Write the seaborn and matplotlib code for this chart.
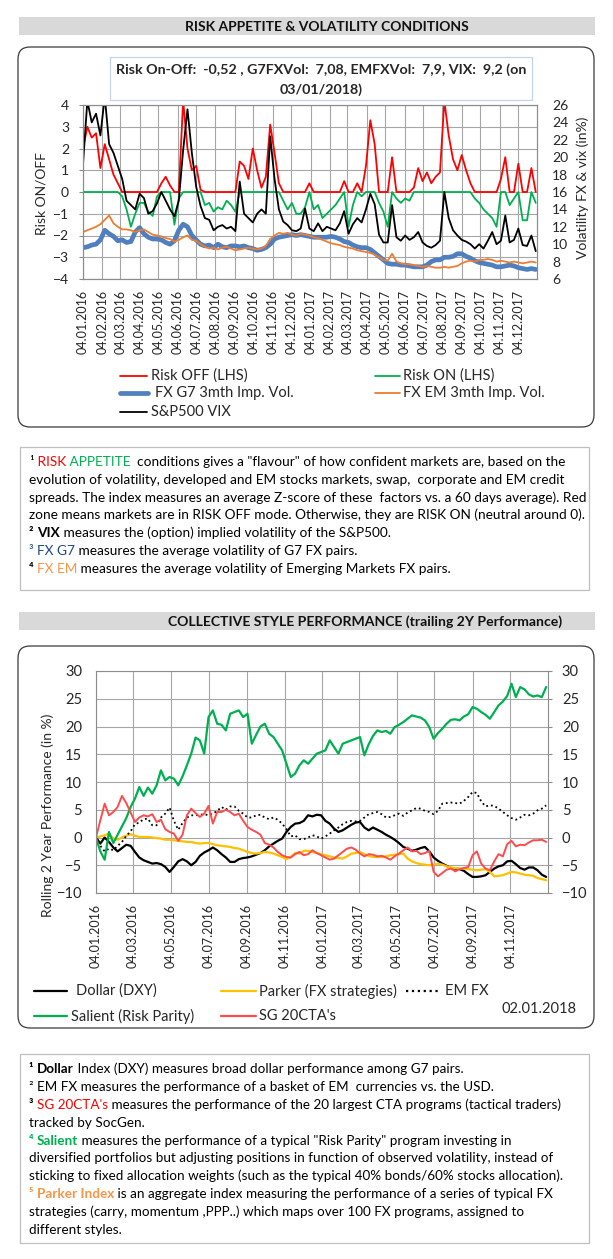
import numpy as np
import pandas as pd
import matplotlib.pyplot as plt
import matplotlib.dates as mdates
import seaborn as sns
from matplotlib.patches import FancyBboxPatch, Rectangle

sns.set_style('white')
BODY = ['Lato', 'DejaVu Sans']
HEAD = ['Liberation Sans Narrow', 'Lato', 'DejaVu Sans']
plt.rcParams['font.family'] = BODY

W, H = 613, 1259

# ---------------- data: risk appetite (weekly, from 04.01.2016) ----------------
risk_on_off = [2.0, 3.0, 2.5, 2.7, 1.1, 2.2, 1.5, 0.8, 0.4, -0.2,
               -0.8, -1.6, -1.0, -0.5, -0.5, -0.9, -1.1, -0.2, 0.4, 0.7,
               0.3, -1.5, -0.3, 4.2, 2.0, 1.0, 1.2, 0.1, -0.6, -0.5,
               -0.9, -0.7, -0.8, -0.4, -0.6, -0.9, 1.4, 1.2, 0.6, 2.0,
               1.0, 0.2, 0.7, 3.1, 1.8, 0.4, -0.4, -0.8, -0.5, -1.0,
               -1.0, -0.7, 0.4, -0.8, -0.6, -1.2, -1.0, -0.8, -0.6, -0.3,
               0.5, -1.6, -0.6, 0.4, -0.2, 1.2, 3.3, 2.2, -0.5, -0.9,
               -1.6, 1.6, -0.3, -0.5, -0.3, -0.4, 0.2, 1.1, 0.5, 0.9,
               0.4, 0.7, 0.9, 4.2, 2.6, 1.5, 1.0, 1.7, 1.0, 0.4,
               -0.3, -0.5, -0.8, -1.0, -1.2, -1.6, 0.6, 1.6, -0.6, -0.3,
               1.3, -1.3, -1.3, 1.1, -0.5]
sp500_vix = [19.2, 26.5, 24.0, 25.0, 22.5, 27.0, 21.5, 20.5, 19.0, 17.5,
             15.0, 14.5, 14.0, 15.8, 15.3, 13.5, 13.8, 14.7, 16.0, 15.0,
             14.0, 13.2, 15.0, 20.8, 25.5, 20.5, 16.6, 14.4, 13.0, 12.8,
             11.6, 12.0, 12.2, 11.8, 12.0, 11.5, 17.2, 13.5, 13.0, 12.5,
             13.5, 14.0, 13.5, 22.4, 17.5, 14.0, 12.6, 12.2, 11.6, 11.5,
             11.8, 14.1, 11.8, 11.5, 12.4, 11.5, 12.0, 11.8, 11.6, 12.4,
             13.8, 11.2, 12.3, 13.0, 12.5, 14.0, 15.8, 14.6, 11.1, 10.2,
             10.2, 14.5, 10.8, 10.4, 11.0, 10.5, 10.8, 11.4, 10.2, 9.8,
             9.6, 9.9, 10.4, 16.0, 13.0, 11.6, 11.0, 10.5, 10.3, 10.0,
             9.5, 10.0, 9.5, 10.4, 11.4, 10.0, 10.4, 13.3, 10.2, 10.5,
             11.8, 9.9, 9.8, 11.0, 9.2]
fx_g7_vol = [9.6, 9.7, 9.9, 10.0, 10.5, 11.6, 11.2, 10.9, 10.4, 10.5,
             10.2, 10.3, 11.4, 11.9, 11.2, 10.8, 10.6, 10.6, 10.5, 10.2,
             10.0, 10.4, 11.6, 12.3, 12.0, 11.0, 10.5, 10.0, 9.8, 9.9,
             9.6, 10.0, 9.7, 9.6, 9.8, 9.8, 9.7, 9.8, 9.6, 9.5,
             9.3, 9.4, 9.6, 10.0, 10.6, 10.8, 10.9, 11.0, 11.1, 11.0,
             11.1, 11.0, 10.9, 10.8, 10.8, 10.8, 10.8, 10.9, 10.8, 10.6,
             10.3, 10.2, 9.9, 9.7, 9.6, 9.6, 9.4, 9.0, 8.6, 8.2,
             7.8, 7.7, 7.7, 7.6, 7.6, 7.5, 7.4, 7.4, 7.4, 7.6,
             8.0, 8.2, 8.2, 8.5, 8.5, 8.6, 8.9, 8.9, 8.6, 8.4,
             8.1, 7.9, 7.8, 7.7, 7.6, 7.4, 7.4, 7.5, 7.6, 7.5,
             7.3, 7.2, 7.1, 7.2, 7.1]
fx_em_vol = [11.4, 11.6, 11.8, 12.0, 12.3, 12.8, 13.3, 12.4, 12.0, 11.7,
             11.7, 11.6, 11.4, 11.6, 11.7, 11.4, 11.1, 11.0, 10.9, 10.7,
             10.6, 10.3, 10.5, 10.8, 11.0, 10.5, 10.4, 10.0, 9.7, 9.5,
             9.6, 9.4, 9.6, 9.7, 9.5, 9.3, 9.4, 9.5, 9.6, 9.5,
             9.4, 9.5, 9.8, 10.6, 11.0, 11.3, 11.2, 11.3, 11.1, 11.0,
             11.2, 11.1, 11.0, 10.8, 10.7, 10.5, 10.3, 10.1, 10.0, 9.9,
             9.7, 9.6, 9.5, 9.3, 9.2, 9.1, 9.0, 8.8, 8.5, 8.2,
             8.1, 8.9, 8.0, 7.8, 7.7, 7.7, 7.6, 7.5, 7.4, 7.5,
             7.4, 7.3, 7.3, 7.4, 7.3, 7.4, 7.5, 7.8, 8.0, 8.1,
             8.0, 8.2, 8.2, 8.3, 8.2, 8.0, 8.1, 8.0, 7.9, 8.0,
             7.9, 7.8, 7.9, 8.0, 7.9]

# ---------------- data: collective style performance (weekly, from 04.01.2016) ----------------
dollar_dxy = [0.0, -1.1, 0.0, -0.8, -1.8, -2.5, -1.9, -1.3, -1.5, -2.6,
              -3.6, -4.1, -4.4, -4.7, -4.6, -4.8, -5.3, -6.2, -5.3, -4.3,
              -3.9, -4.3, -5.0, -4.4, -3.3, -2.7, -2.3, -1.8, -2.3, -3.0,
              -3.6, -4.4, -4.4, -3.9, -3.7, -3.6, -3.4, -3.1, -2.8, -2.3,
              -1.6, -1.1, -0.6, -0.2, 1.0, 1.9, 2.5, 2.6, 3.0, 4.0,
              3.8, 4.1, 4.0, 3.0, 2.5, 1.6, 1.0, 1.3, 1.8, 2.3,
              2.7, 2.8, 1.8, 1.3, 1.8, 1.4, 1.0, 0.5, 0.1, -0.4,
              -1.0, -1.7, -2.0, -2.4, -2.2, -1.9, -1.7, -2.5, -3.6, -4.2,
              -4.7, -5.1, -5.5, -5.6, -5.7, -6.0, -6.6, -7.1, -7.1, -7.0,
              -6.8, -6.2, -5.6, -5.2, -5.0, -4.3, -4.2, -4.8, -5.5, -5.8,
              -5.4, -5.4, -5.9, -6.7, -7.1]
parker_fx = [0.0, 0.2, 0.4, 0.7, -0.2, -0.4, 0.0, 0.3, 0.6, 0.3,
             0.1, 0.1, 0.1, 0.0, -0.1, -0.2, -0.4, -0.4, -0.5, -0.6,
             -0.7, -0.8, -0.8, -1.0, -1.1, -1.0, -1.0, -1.2, -1.4, -1.5,
             -1.6, -1.7, -1.9, -2.0, -2.3, -2.6, -2.8, -2.9, -2.8, -2.6,
             -2.7, -2.9, -3.2, -3.5, -3.9, -3.5, -2.8, -2.9, -2.4, -2.4,
             -2.6, -2.8, -3.0, -3.2, -3.4, -3.6, -3.7, -3.8, -3.4, -2.9,
             -2.8, -2.6, -3.0, -3.3, -3.5, -3.5, -3.5, -3.4, -3.2, -3.1,
             -3.0, -2.9, -3.8, -4.3, -4.6, -4.8, -4.9, -5.0, -4.9, -4.7,
             -4.9, -5.2, -5.4, -5.5, -5.6, -5.6, -5.7, -5.8, -5.9, -5.8,
             -5.7, -6.2, -7.0, -6.9, -6.8, -6.5, -6.2, -6.3, -6.5, -6.7,
             -6.8, -6.9, -7.3, -7.5, -7.7]
em_fx = [0.0, -1.5, -2.5, -2.0, -2.3, -1.5, -0.8, 0.3, 1.1, 2.4,
         2.7, 3.3, 3.4, 2.2, 2.2, 3.6, 4.3, 5.4, 3.0, 1.4,
         2.6, 3.6, 4.0, 4.0, 4.1, 4.2, 4.0, 4.3, 4.8, 5.5,
         5.0, 5.6, 5.6, 4.8, 4.3, 3.6, 3.6, 4.0, 4.1, 3.6,
         3.3, 3.6, 3.2, 2.5, 1.5, 0.2, 0.4, -0.3, -0.3, 0.0,
         0.4, 0.2, -0.2, 0.2, 0.7, 1.3, 1.8, 2.4, 2.8, 3.0,
         2.9, 3.0, 3.6, 4.2, 4.4, 4.6, 4.2, 3.6, 3.7, 4.0,
         4.3, 3.9, 4.5, 4.9, 5.3, 5.2, 4.8, 4.6, 4.2, 4.8,
         6.1, 6.2, 6.3, 6.2, 6.1, 6.6, 7.3, 8.2, 8.0, 6.5,
         5.6, 5.8, 5.7, 5.2, 4.6, 4.0, 3.5, 3.2, 3.6, 4.1,
         4.0, 4.3, 4.9, 5.2, 5.8]
salient_rp = [0.0, -2.5, -4.0, 1.0, -1.0, 0.5, 2.0, 3.5, 5.5, 7.0,
              9.1, 7.5, 9.0, 7.9, 9.4, 12.1, 10.3, 10.9, 10.6, 9.4,
              11.0, 13.0, 15.1, 18.0, 17.5, 15.1, 21.7, 22.9, 20.5, 20.3,
              19.3, 22.3, 22.6, 22.9, 21.7, 22.3, 16.9, 18.5, 20.0, 20.5,
              18.7, 18.1, 16.9, 15.7, 13.3, 10.9, 11.5, 13.0, 13.9, 13.3,
              14.2, 15.1, 15.4, 15.7, 17.5, 16.3, 15.1, 16.9, 17.2, 17.5,
              17.8, 18.1, 14.8, 16.8, 18.3, 19.3, 19.0, 19.2, 18.7, 19.9,
              20.3, 20.8, 21.4, 22.0, 21.8, 21.6, 21.1, 19.9, 17.8, 18.8,
              19.6, 20.5, 21.2, 21.3, 21.1, 21.8, 22.2, 23.5, 23.2, 22.6,
              22.1, 21.4, 22.6, 23.8, 24.5, 25.5, 27.7, 25.3, 27.1, 26.7,
              25.8, 25.4, 25.6, 25.3, 27.1]
sg_20cta = [0.0, 3.1, 6.1, 4.0, 4.6, 5.5, 7.5, 6.2, 4.5, 2.8,
            3.6, 4.0, 3.8, 4.2, 2.8, 3.2, 1.5, 1.0, 0.7, -0.6,
            0.5, 4.0, 5.2, 4.4, 3.7, 4.3, 5.7, 2.5, 4.6, 4.6,
            5.0, 4.6, 4.0, 4.3, 3.0, 1.9, 1.4, 1.0, 0.5, -1.0,
            -1.3, -1.8, -2.6, -3.2, -3.5, -3.6, -3.0, -2.6, -3.2, -3.0,
            -2.3, -2.8, -3.2, -3.6, -4.0, -3.8, -3.2, -2.6, -2.0, -1.8,
            -2.2, -2.9, -3.4, -3.0, -3.1, -3.4, -3.3, -3.6, -4.0, -3.4,
            -2.9, -2.3, -1.8, -2.5, -2.4, -3.0, -2.8, -2.4, -6.2, -7.0,
            -6.4, -5.8, -5.6, -6.1, -5.7, -5.5, -5.3, -3.2, -2.5, -4.7,
            -5.6, -5.9, -4.3, -3.0, -3.4, -1.2, -0.6, -1.6, -1.3, -1.4,
            -0.9, -0.5, -0.5, -0.4, -0.8]

weeks = pd.date_range('2016-01-04', periods=len(risk_on_off), freq='7D')
risk_arr = np.array(risk_on_off)
risk_off = np.maximum(risk_arr, 0)   # red, above zero
risk_on = np.minimum(risk_arr, 0)    # green, below zero

# ---------------- figure + pixel canvas ----------------
fig = plt.figure(figsize=(W / 100, H / 100), dpi=100)
fig.patch.set_facecolor('white')
bg = fig.add_axes([0, 0, 1, 1])
bg.set_xlim(0, W)
bg.set_ylim(H, 0)
bg.axis('off')


def frac(x0, y0, x1, y1):
    return [x0 / W, 1 - y1 / H, (x1 - x0) / W, (y1 - y0) / H]


def rich_line(x, y, parts, size):
    prev = None
    for s, color, weight in parts:
        if prev is None:
            prev = bg.text(x, y, s, color=color, fontweight=weight, fontsize=size,
                           va='baseline', ha='left', family=BODY)
        else:
            prev = bg.annotate(s, xy=(1, 0), xycoords=prev, va='bottom', ha='left',
                               color=color, fontweight=weight, fontsize=size, family=BODY)


GRID = '#a6a6a6'
SPINE = '#8c8c8c'

# headers
for (y0, label, cx, fs) in [(17, 'RISK APPETITE & VOLATILITY CONDITIONS', 327, 10),
                            (612, 'COLLECTIVE STYLE PERFORMANCE (trailing 2Y Performance)', 365, 10.1)]:
    bg.add_patch(Rectangle((19, y0), 576, 18, color='#d9d9d9', lw=0))
    bg.text(cx, y0 + 9.5, label, ha='center', va='center', fontsize=fs,
            fontweight='bold', family=HEAD, color='#111111')

# rounded chart frames
for y0, y1 in [(47, 427), (646, 1028)]:
    bg.add_patch(FancyBboxPatch((18, y0), 576, y1 - y0,
                                boxstyle='round,pad=0,rounding_size=12',
                                fc='white', ec='#3a3a3a', lw=0.9))

# ---------------- chart 1: risk appetite ----------------
bg.add_patch(Rectangle((110, 57), 422, 43, fc='white', ec='#c5d3e6', lw=0.9))
bg.text(321, 70, 'Risk On-Off:  -0,52 , G7FXVol:  7,08, EMFXVol:  7,9, VIX:  9,2 (on',
        ha='center', va='center', fontsize=10.3, fontweight='bold')
bg.text(321, 90, '03/01/2018)', ha='center', va='center', fontsize=10.3, fontweight='bold')

ax1 = fig.add_axes(frac(83, 105, 537, 279))
sns.lineplot(x=weeks, y=risk_on, ax=ax1, color='#00b050', linewidth=1.3)
sns.lineplot(x=weeks, y=risk_off, ax=ax1, color='#ff0000', linewidth=1.3)
ax1.set_ylim(-4, 4)
ax1.set_yticks(range(-4, 5))
ax1.set_xlim(pd.Timestamp('2016-01-04'), pd.Timestamp('2018-01-03'))
month_ticks = pd.date_range('2016-01-01', periods=24, freq='MS') + pd.Timedelta(days=3)
ax1.set_xticks(month_ticks)
ax1.xaxis.set_major_formatter(mdates.DateFormatter('%d.%m.%Y'))
ax1.grid(True, color=GRID, lw=0.8)
ax1.set_xlabel('')
ax1.set_ylabel('')
ax1.tick_params(axis='x', rotation=90, labelsize=9, length=0, pad=8)
ax1.tick_params(axis='y', labelsize=10, length=3, color=SPINE, pad=7)

axr = ax1.twinx()
sns.lineplot(x=weeks, y=fx_g7_vol, ax=axr, color='#4f7fbf', linewidth=3.4)
sns.lineplot(x=weeks, y=fx_em_vol, ax=axr, color='#ed7d31', linewidth=1.3)
sns.lineplot(x=weeks, y=sp500_vix, ax=axr, color='black', linewidth=1.3)
axr.set_ylim(6, 26)
axr.set_yticks(range(6, 27, 2))
axr.set_ylabel('')
axr.tick_params(axis='y', labelsize=10, length=0, pad=11)
for a in (ax1, axr):
    for sp in a.spines.values():
        sp.set_color(SPINE)
        sp.set_linewidth(0.8)

bg.text(41, 194, 'Risk ON/OFF', rotation=90, ha='center', va='center', fontsize=10)
bg.text(583, 188, 'Volatility FX & vix (in%)', rotation=90, ha='center', va='center', fontsize=10)

# legend 1
legend1 = [(120, 147, 376, '#ff0000', 1.3, '-', 151, 'Risk OFF (LHS)'),
           (120, 148, 393, '#4f7fbf', 3.4, '-', 155, 'FX G7 3mth Imp. Vol.'),
           (120, 147, 412, 'black', 1.3, '-', 151, 'S&P500 VIX'),
           (375, 400, 376, '#00b050', 1.3, '-', 403, 'Risk ON (LHS)'),
           (375, 400, 393, '#ed7d31', 1.3, '-', 403, 'FX EM 3mth Imp. Vol.')]
for x0, x1, y, c, lw, ls, tx, label in legend1:
    bg.plot([x0, x1], [y, y], color=c, lw=lw, ls=ls, solid_capstyle='round')
    bg.text(tx, y, label, ha='left', va='center', fontsize=10.5)

# notes 1
bg.add_patch(Rectangle((19.5, 447), 569.5, 143, fc='white', ec='#bfbfbf', lw=0.9))
notes1 = [
    [('¹', 'black', 'normal'), (' RISK', '#ff0000', 'normal'), (' APPETITE', '#00b050', 'normal'),
     ('  conditions gives a "flavour" of how confident markets are, based on the', 'black', 'normal')],
    [('evolution of volatility, developed and EM stocks markets, swap,  corporate and EM credit', 'black', 'normal')],
    [('spreads. The index measures an average Z-score of these  factors vs. a 60 days average). Red', 'black', 'normal')],
    [('zone means markets are in RISK OFF mode. Otherwise, they are RISK ON (neutral around 0).', 'black', 'normal')],
    [('² ', 'black', 'bold'), ('VIX', 'black', 'bold'),
     (' measures the (option) implied volatility of the S&P500.', 'black', 'normal')],
    [('³ ', '#1f497d', 'normal'), ('FX G7', '#1f497d', 'normal'),
     (' measures the average volatility of G7 FX pairs.', 'black', 'normal')],
    [('⁴ ', 'black', 'bold'), ('FX EM', '#f79646', 'normal'),
     (' measures the average volatility of Emerging Markets FX pairs.', 'black', 'normal')],
]
for i, parts in enumerate(notes1):
    rich_line(29, 466 + 17.8 * i, parts, 9.8)

# ---------------- chart 2: style performance ----------------
ax2 = fig.add_axes(frac(96, 671, 548, 893))
styles = [(dollar_dxy, 'black', '-', 1.6),
          (parker_fx, '#ffc000', '-', 1.6),
          (em_fx, 'black', ':', 1.3),
          (salient_rp, '#00b050', '-', 1.6),
          (sg_20cta, '#ff4b4b', '-', 1.4)]
for vals, c, ls, lw in styles:
    sns.lineplot(x=weeks, y=vals, ax=ax2, color=c, linestyle=ls, linewidth=lw)
ax2.set_ylim(-10, 30)
ax2.set_yticks(range(-10, 31, 5))
ax2.set_xlim(pd.Timestamp('2016-01-04'), pd.Timestamp('2018-01-04'))
bimonth_ticks = pd.date_range('2016-01-01', periods=12, freq='2MS') + pd.Timedelta(days=3)
ax2.set_xticks(bimonth_ticks)
ax2.xaxis.set_major_formatter(mdates.DateFormatter('%d.%m.%Y'))
ax2.grid(True, color=GRID, lw=0.8)
ax2.set_xlabel('')
ax2.set_ylabel('')
ax2.tick_params(axis='x', rotation=90, labelsize=9, length=0, pad=8)
ax2.tick_params(axis='y', labelsize=10.5, length=3, color=SPINE, pad=7,
                labelright=True, right=True)
for sp in ax2.spines.values():
    sp.set_color(SPINE)
    sp.set_linewidth(0.8)

bg.text(48, 815, 'Rolling 2 Year Performance (in %)', rotation=90, ha='center', va='center', fontsize=10)

legend2 = [(34, 67, 991, 'black', '-', 76, 'Dollar (DXY)'),
           (221, 256, 991, '#ffc000', '-', 259, 'Parker (FX strategies)'),
           (406, 439, 991, 'black', ':', 445, 'EM FX'),
           (34, 67, 1016, '#00b050', '-', 71, 'Salient (Risk Parity)'),
           (221, 256, 1016, '#ff4b4b', '-', 259, "SG 20CTA's")]
for x0, x1, y, c, ls, tx, label in legend2:
    bg.plot([x0, x1], [y, y], color=c, lw=1.6, ls=ls)
    bg.text(tx, y, label, ha='left', va='center', fontsize=10.5)
bg.text(576, 1009, '02.01.2018', ha='right', va='center', fontsize=10.5)

# notes 2
bg.add_patch(Rectangle((19.5, 1054), 569.5, 189, fc='white', ec='#bfbfbf', lw=0.9))
notes2 = [
    [('¹ ', 'black', 'bold'), ('Dollar', 'black', 'bold'),
     (' Index (DXY) measures broad dollar performance among G7 pairs.', 'black', 'normal')],
    [('² EM FX measures the performance of a basket of EM  currencies vs. the USD.', 'black', 'normal')],
    [('³ ', 'black', 'bold'), ("SG 20CTA's", '#ff0000', 'normal'),
     (' measures the performance of the 20 largest CTA programs (tactical traders)', 'black', 'normal')],
    [('tracked by SocGen.', 'black', 'normal')],
    [('⁴ ', '#00b050', 'bold'), ('Salient', '#00b050', 'bold'),
     (' measures the performance of a typical "Risk Parity" program investing in', 'black', 'normal')],
    [('diversified portfolios but adjusting positions in function of observed volatility, instead of', 'black', 'normal')],
    [('sticking to fixed allocation weights (such as the typical 40% bonds/60% stocks allocation).', 'black', 'normal')],
    [('⁵ ', '#f79646', 'bold'), ('Parker Index', '#f79646', 'bold'),
     (' is an aggregate index measuring the performance of a series of typical FX', 'black', 'normal')],
    [('strategies (carry, momentum ,PPP..) which maps over 100 FX programs, assigned to', 'black', 'normal')],
    [('different styles.', 'black', 'normal')],
]
for i, parts in enumerate(notes2):
    rich_line(29, 1073 + 17.9 * i, parts, 9.7)

fig.savefig('out.png', dpi=100, facecolor='white')
